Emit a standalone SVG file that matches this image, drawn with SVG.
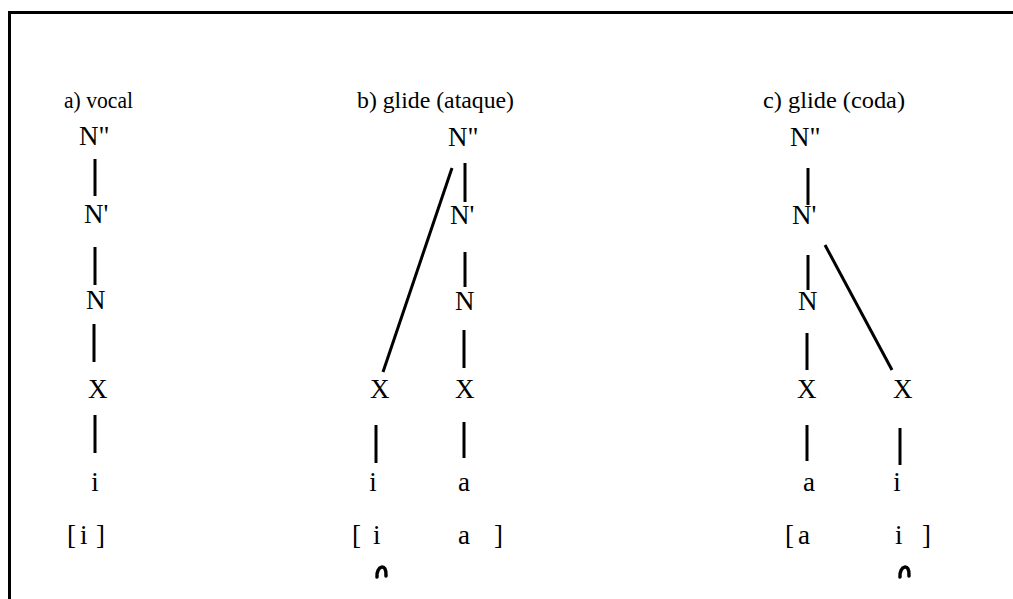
<svg xmlns="http://www.w3.org/2000/svg" width="1013" height="599" viewBox="0 0 1013 599">
<style>
.t{font-family:"Liberation Serif","Times New Roman",serif;font-size:24px;fill:#000}
.n{font-family:"Liberation Serif","Times New Roman",serif;font-size:27px;fill:#000}
.e{stroke:#000;stroke-width:3;stroke-linecap:butt;fill:none}
.br{stroke:#000;stroke-width:3.5;fill:none;stroke-linecap:round}
</style>
<rect width="1013" height="599" fill="#fff"/>
<g id="frame">
<line x1="8" y1="12.5" x2="1013" y2="12.5" stroke="#000" stroke-width="3"/>
<line x1="9.5" y1="11" x2="9.5" y2="599" stroke="#000" stroke-width="3"/>
</g>
<g id="titles">
<text class="t" x="64" y="108" textLength="69" lengthAdjust="spacingAndGlyphs">a) vocal</text>
<text class="t" x="357" y="108" textLength="157" lengthAdjust="spacingAndGlyphs">b) glide (ataque)</text>
<text class="t" x="763" y="108" textLength="142" lengthAdjust="spacingAndGlyphs">c) glide (coda)</text>
</g>
<g id="connectors">
<line class="e" x1="95" y1="159" x2="95" y2="196"/>
<line class="e" x1="95" y1="247" x2="95" y2="285"/>
<line class="e" x1="94" y1="324" x2="94" y2="362"/>
<line class="e" x1="95" y1="415" x2="95" y2="453"/>
<line class="e" x1="465" y1="163" x2="465" y2="202"/>
<line class="e" x1="452" y1="168" x2="383" y2="372" stroke-width="3.5"/>
<line class="e" x1="465" y1="252" x2="465" y2="287"/>
<line class="e" x1="464" y1="330" x2="464" y2="368"/>
<line class="e" x1="376" y1="425" x2="376" y2="463"/>
<line class="e" x1="464" y1="422" x2="464" y2="458"/>
<line class="e" x1="808" y1="168" x2="808" y2="205"/>
<line class="e" x1="825" y1="245" x2="892" y2="370" stroke-width="3.5"/>
<line class="e" x1="808" y1="255" x2="808" y2="290"/>
<line class="e" x1="807" y1="333" x2="807" y2="370"/>
<line class="e" x1="807" y1="425" x2="807" y2="461"/>
<line class="e" x1="900" y1="428" x2="900" y2="465"/>
</g>
<g id="tree-a">
<text class="n" x="79" y="145">N"</text>
<text class="n" x="84" y="223">N'</text>
<text class="n" x="86" y="309">N</text>
<text class="n" x="88" y="398">X</text>
<text class="n" x="95" y="491" text-anchor="middle">i</text>
<text class="n" y="544"><tspan x="67">[</tspan><tspan x="80">i</tspan><tspan x="96">]</tspan></text>
</g>
<g id="tree-b">
<text class="n" x="448" y="146">N"</text>
<text class="n" x="450" y="224">N'</text>
<text class="n" x="455" y="310">N</text>
<text class="n" x="370" y="398">X</text>
<text class="n" x="455" y="398">X</text>
<text class="n" x="373" y="491" text-anchor="middle">i</text>
<text class="n" x="464" y="491" text-anchor="middle">a</text>
<text class="n" y="544"><tspan x="352">[</tspan><tspan x="373">i</tspan><tspan x="458">a</tspan><tspan x="494">]</tspan></text>
<path class="br" d="M377,577 C376,566 387,562 386,576"/>
</g>
<g id="tree-c">
<text class="n" x="790" y="146">N"</text>
<text class="n" x="792" y="224">N'</text>
<text class="n" x="798" y="310">N</text>
<text class="n" x="797" y="398">X</text>
<text class="n" x="893" y="398">X</text>
<text class="n" x="809" y="491" text-anchor="middle">a</text>
<text class="n" x="897" y="491" text-anchor="middle">i</text>
<text class="n" y="544"><tspan x="785">[</tspan><tspan x="798">a</tspan><tspan x="895">i</tspan><tspan x="922">]</tspan></text>
<path class="br" d="M900,577 C899,566 910,562 909,576"/>
</g>
</svg>
